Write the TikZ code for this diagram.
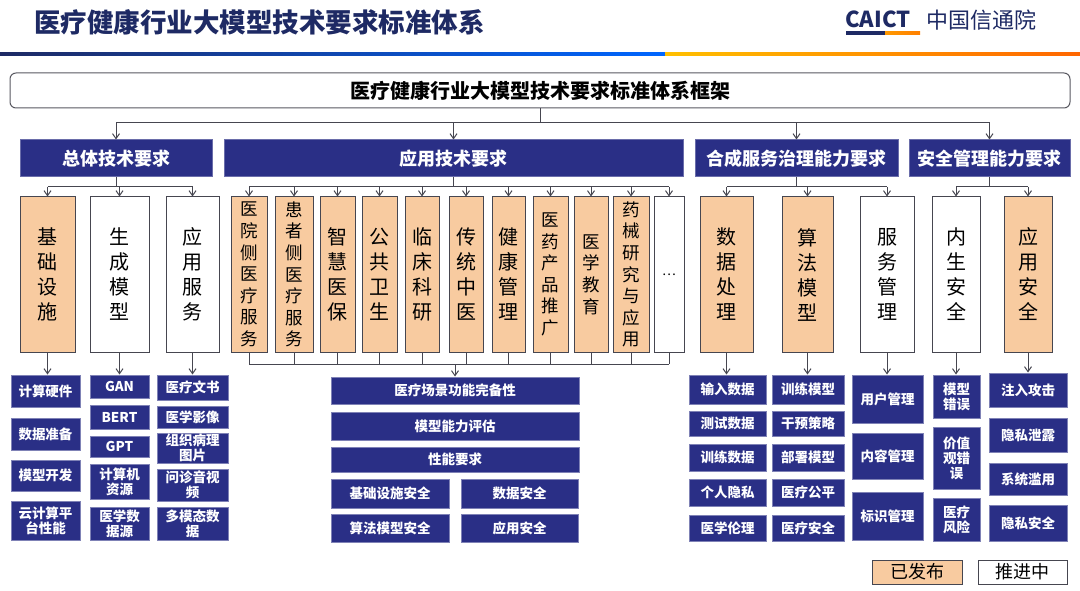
\documentclass[tikz,border=0pt]{standalone}
\usepackage{fontspec}
\setmainfont{Noto Sans CJK SC}
\usetikzlibrary{arrows.meta}
\definecolor{navy}{RGB}{42,47,134}
\definecolor{peach}{RGB}{248,203,160}
\definecolor{edge}{RGB}{70,70,80}
\definecolor{ttl}{RGB}{30,42,100}
\newcommand\mybox[7]{\node[#6, minimum width={#4-#2}, minimum height={#5-#3}] (#1) at ({(#2+#4)/2},{(#3+#5)/2}) {#7};}
\tikzset{
  base/.style={inner sep=0pt, align=center, line width=1pt},
  cat/.style={base, fill=navy, draw=navy!70!white, text=white, font=\fontsize{18}{20}\selectfont\bfseries},
  pub/.style={base, fill=peach, draw=edge, font=\fontsize{20}{25}\selectfont},
  pend/.style={base, fill=white, draw=edge, font=\fontsize{20}{25}\selectfont},
  pubs/.style={pub, font=\fontsize{17.5}{21.6}\selectfont},
  pends/.style={pend, font=\fontsize{17.5}{21.6}\selectfont},
  leaf/.style={base, fill=navy, draw=navy!60!white, text=white, font=\fontsize{13.5}{15}\selectfont\bfseries},
  ln/.style={draw=edge, line width=1pt},
  arr/.style={ln, -{Straight Barb[length=5pt,width=7pt]}},
}
\begin{document}
\begin{tikzpicture}[x=1pt,y=-1pt]
\useasboundingbox (0,0) rectangle (1080,591);
\fill[white] (0,0) rectangle (1080,591);
% header
\node[anchor=west, text=ttl, font=\fontsize{26.5}{29}\selectfont\bfseries, inner sep=0] (title) at (34,22) {医疗健康行业大模型技术要求标准体系};
\node[anchor=west, text=ttl, font=\fontsize{22}{24}\selectfont\bfseries, inner sep=0] (caict) at (845,19) {CAICT};
\node[anchor=west, text=ttl, font=\fontsize{22}{24}\selectfont, inner sep=0] (cn) at (926,20) {中国信通院};
\shade[left color=ttl, right color=ttl] (846,32) rectangle (885,34.5);
\shade[left color=orange!80!yellow, right color=orange] (885,32) rectangle (920,34.5);
\shade[left color=ttl, right color=blue!60!cyan] (0,52.5) rectangle (665,55.5);
\shade[left color=orange!50!yellow, right color=orange!80!red] (665,52.5) rectangle (1080,55.5);
% frame
\mybox{frame}{10}{73}{1070}{108}{base, draw=edge!90, rounded corners=6pt, font=\fontsize{20}{22}\selectfont\bfseries}{医疗健康行业大模型技术要求标准体系框架}
% categories
\mybox{zt}{20}{140}{212}{177}{cat}{总体技术要求}
\mybox{yy}{224}{140}{683}{177}{cat}{应用技术要求}
\mybox{hc}{695}{140}{898}{177}{cat}{合成服务治理能力要求}
\mybox{aq}{909}{140}{1070}{177}{cat}{安全管理能力要求}
\draw[ln] (frame.south) -- (frame.south |- 0,123);
\draw[ln] (zt.north |- 0,123) -- (aq.north |- 0,123);
\foreach \n in {zt,yy,hc,aq}{\draw[arr] (\n.north |- 0,123) -- (\n.north);}
% children
\mybox{c1}{20}{197}{75}{352}{pub}{基\\础\\设\\施}
\mybox{c2}{90}{197}{149}{352}{pend}{生\\成\\模\\型}
\mybox{c3}{166}{197}{219}{352}{pend}{应\\用\\服\\务}
\mybox{a1}{231}{197}{267}{352}{pubs}{医\\院\\侧\\医\\疗\\服\\务}
\mybox{a2}{275}{197}{313}{352}{pubs}{患\\者\\侧\\医\\疗\\服\\务}
\mybox{a3}{320}{197}{355}{352}{pub}{智\\慧\\医\\保}
\mybox{a4}{362}{197}{397}{352}{pub}{公\\共\\卫\\生}
\mybox{a5}{405}{197}{439}{352}{pub}{临\\床\\科\\研}
\mybox{a6}{449}{197}{483}{352}{pub}{传\\统\\中\\医}
\mybox{a7}{492}{197}{525}{352}{pub}{健\\康\\管\\理}
\mybox{a8}{533}{197}{568}{352}{pubs}{医\\药\\产\\品\\推\\广}
\mybox{a9}{574}{197}{608}{352}{pubs}{医\\学\\教\\育}
\mybox{a10}{613}{197}{649}{352}{pubs}{药\\械\\研\\究\\与\\应\\用}
\mybox{a11}{654}{197}{684}{352}{pend, font=\fontsize{13}{15}\selectfont}{…}
\mybox{h1}{700}{197}{753}{352}{pub}{数\\据\\处\\理}
\mybox{h2}{782}{197}{833}{352}{pub}{算\\法\\模\\型}
\mybox{h3}{860}{197}{914}{352}{pend}{服\\务\\管\\理}
\mybox{s1}{932}{197}{980}{352}{pend}{内\\生\\安\\全}
\mybox{s2}{1004}{197}{1052}{352}{pub}{应\\用\\安\\全}
% category -> children
\draw[ln] (zt.south) -- (zt.south |- 0,187);
\draw[ln] (c1.north |- 0,187) -- (c3.north |- 0,187);
\foreach \n in {c1,c2,c3}{\draw[arr] (\n.north |- 0,187) -- (\n.north);}
\draw[ln] (yy.south) -- (yy.south |- 0,187);
\draw[ln] (a1.north |- 0,187) -- (a11.north |- 0,187);
\foreach \n in {a1,a2,a3,a4,a5,a6,a7,a8,a9,a10,a11}{\draw[arr] (\n.north |- 0,187) -- (\n.north);}
\draw[ln] (hc.south) -- (hc.south |- 0,187);
\draw[ln] (h1.north |- 0,187) -- (h3.north |- 0,187);
\foreach \n in {h1,h2,h3}{\draw[arr] (\n.north |- 0,187) -- (\n.north);}
\draw[ln] (aq.south) -- (aq.south |- 0,187);
\draw[ln] (s1.north |- 0,187) -- (s2.north |- 0,187);
\foreach \n in {s1,s2}{\draw[arr] (\n.north |- 0,187) -- (\n.north);}
% leaves: col 1
\mybox{l11}{11}{375}{80}{407}{leaf}{计算硬件}
\mybox{l12}{11}{418}{80}{450}{leaf}{数据准备}
\mybox{l13}{11}{460}{80}{491}{leaf}{模型开发}
\mybox{l14}{11}{501}{80}{540}{leaf}{云计算平\\台性能}
\mybox{l21}{90}{375}{149}{398}{leaf}{GAN}
\mybox{l22}{90}{405}{149}{429}{leaf}{BERT}
\mybox{l23}{90}{436}{149}{457}{leaf}{GPT}
\mybox{l24}{90}{464}{149}{499}{leaf}{计算机\\资源}
\mybox{l25}{90}{507}{149}{540}{leaf}{医学数\\据源}
\mybox{l31}{157}{375}{228}{400}{leaf}{医疗文书}
\mybox{l32}{157}{406}{228}{428}{leaf}{医学影像}
\mybox{l33}{157}{433}{228}{463}{leaf}{组织病理\\图片}
\mybox{l34}{157}{469}{228}{501}{leaf}{问诊音视\\频}
\mybox{l35}{157}{507}{228}{540}{leaf}{多模态数\\据}
\draw[arr] (c1.south) -- (l11.north -| c1.south);
\draw[arr] (c2.south) -- (l21.north -| c2.south);
\draw[arr] (c3.south) -- (l31.north -| c3.south);
% app leaves
\mybox{m1}{331}{377}{579}{404}{leaf}{医疗场景功能完备性}
\mybox{m2}{331}{412}{579}{440}{leaf}{模型能力评估}
\mybox{m3}{331}{447}{579}{472}{leaf}{性能要求}
\mybox{m4}{331}{479}{449}{508}{leaf}{基础设施安全}
\mybox{m5}{461}{479}{578}{508}{leaf}{数据安全}
\mybox{m6}{331}{514}{449}{542}{leaf}{算法模型安全}
\mybox{m7}{461}{514}{578}{542}{leaf}{应用安全}
\foreach \n in {a1,a2,a3,a4,a5,a6,a7,a8,a9,a10,a11}{\draw[ln] (\n.south) -- (\n.south |- 0,364);}
\draw[ln] (a1.south |- 0,364) -- (a11.south |- 0,364);
\draw[arr] (m1.north |- 0,364) -- (m1.north);
% hc leaves
\mybox{p1}{689}{375}{766}{404}{leaf}{输入数据}
\mybox{p2}{689}{411}{766}{436}{leaf}{测试数据}
\mybox{p3}{689}{444}{766}{471}{leaf}{训练数据}
\mybox{p4}{689}{479}{766}{506}{leaf}{个人隐私}
\mybox{p5}{689}{515}{766}{541}{leaf}{医学伦理}
\mybox{q1}{772}{375}{844}{404}{leaf}{训练模型}
\mybox{q2}{772}{411}{844}{436}{leaf}{干预策略}
\mybox{q3}{772}{444}{844}{471}{leaf}{部署模型}
\mybox{q4}{772}{479}{844}{506}{leaf}{医疗公平}
\mybox{q5}{772}{515}{844}{541}{leaf}{医疗安全}
\mybox{r1}{852}{375}{923}{423}{leaf}{用户管理}
\mybox{r2}{852}{433}{923}{479}{leaf}{内容管理}
\mybox{r3}{852}{492}{923}{540}{leaf}{标识管理}
\mybox{t1}{933}{375}{980}{418}{leaf}{模型\\错误}
\mybox{t2}{933}{427}{980}{489}{leaf}{价值\\观错\\误}
\mybox{t3}{933}{498}{980}{541}{leaf}{医疗\\风险}
\mybox{u1}{989}{373}{1067}{407}{leaf}{注入攻击}
\mybox{u2}{989}{418}{1067}{452}{leaf}{隐私泄露}
\mybox{u3}{989}{463}{1067}{495}{leaf}{系统滥用}
\mybox{u4}{989}{505}{1067}{541}{leaf}{隐私安全}
\draw[arr] (h1.south) -- (p1.north -| h1.south);
\draw[arr] (h2.south) -- (q1.north -| h2.south);
\draw[arr] (h3.south) -- (r1.north -| h3.south);
\draw[arr] (s1.south) -- (t1.north -| s1.south);
\draw[arr] (s2.south) -- (u1.north -| s2.south);
% legend
\mybox{lg1}{872}{560}{962}{584}{base, fill=peach, draw=edge, font=\fontsize{18}{20}\selectfont}{已发布}
\mybox{lg2}{978}{560}{1067}{584}{base, fill=white, draw=edge, font=\fontsize{18}{20}\selectfont}{推进中}
\end{tikzpicture}
\end{document}
